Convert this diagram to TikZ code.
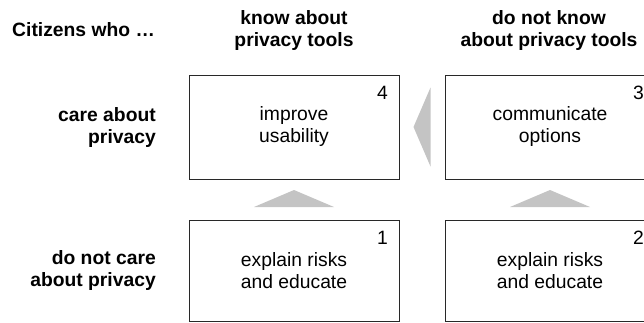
\documentclass[tikz,border=0pt]{standalone}
\usepackage{fontspec}
\setmainfont{Liberation Sans}
\usetikzlibrary{calc}
\definecolor{trigray}{RGB}{196,196,196}
\definecolor{boxline}{RGB}{40,40,40}
\begin{document}
\begin{tikzpicture}[x=1pt,y=1pt,
  stepbox/.style={draw=boxline,line width=0.9pt,minimum width=210pt,inner sep=0pt,align=center,font=\fontsize{19.3}{22}\selectfont},
  toprow/.style={stepbox,minimum height=104pt},
  botrow/.style={stepbox,minimum height=101pt},
  num/.style={inner sep=0pt,font=\fontsize{19.3}{22}\selectfont},
  head/.style={inner sep=0pt,align=center,font=\fontsize{19.3}{22}\selectfont\bfseries},
  rowhead/.style={inner sep=0pt,align=right,anchor=east,font=\fontsize{19.3}{22}\selectfont\bfseries},
  tri/.style={fill=trigray,draw=none}
]
\useasboundingbox (0,0) rectangle (644,-322);
% headers
\node[inner sep=0pt,anchor=base west,font=\fontsize{19.3}{22}\selectfont\bfseries] (cit) at (12,-36) {Citizens who …};
\node[head] (hk) at (294,-31) {know about\\privacy tools};
\node[head] (hn) at (549,-31) {do not know\\about privacy tools};
\node[rowhead] (rc) at (156,-128) {care about\\privacy};
\node[rowhead] (rn) at (156,-271) {do not care\\about privacy};
% boxes
\node[toprow] (b4) at (294,-127) {improve\\usability};
\node[toprow] (b3) at (550,-127) {communicate\\options};
\node[botrow] (b1) at (294,-270.5) {explain risks\\and educate};
\node[botrow] (b2) at (550,-270.5) {explain risks\\and educate};
% numbers
\node[num] (n4) at ($(b4.north east)+(-17,-18)$) {4};
\node[num] (n3) at ($(b3.north east)+(-17,-18)$) {3};
\node[num] (n1) at ($(b1.north east)+(-17,-18)$) {1};
\node[num] (n2) at ($(b2.north east)+(-17,-18)$) {2};
% arrows (triangles)
\coordinate (m14) at ($(b1.north)!0.5!(b4.south)$);
\coordinate (m23) at ($(b2.north)!0.5!(b3.south)$);
\coordinate (m34) at ($(b4.east)!0.5!(b3.west)$);
\fill[tri] ($(m14)+(-40,-7.5)$) -- ($(m14)+(40,-7.5)$) -- ($(m14)+(0,9.5)$) -- cycle;
\fill[tri] ($(m23)+(-40,-7.5)$) -- ($(m23)+(40,-7.5)$) -- ($(m23)+(0,9.5)$) -- cycle;
\fill[tri] ($(m34)+(-8.5,0)$) -- ($(m34)+(8.5,39.5)$) -- ($(m34)+(8.5,-39.5)$) -- cycle;
\end{tikzpicture}
\end{document}
